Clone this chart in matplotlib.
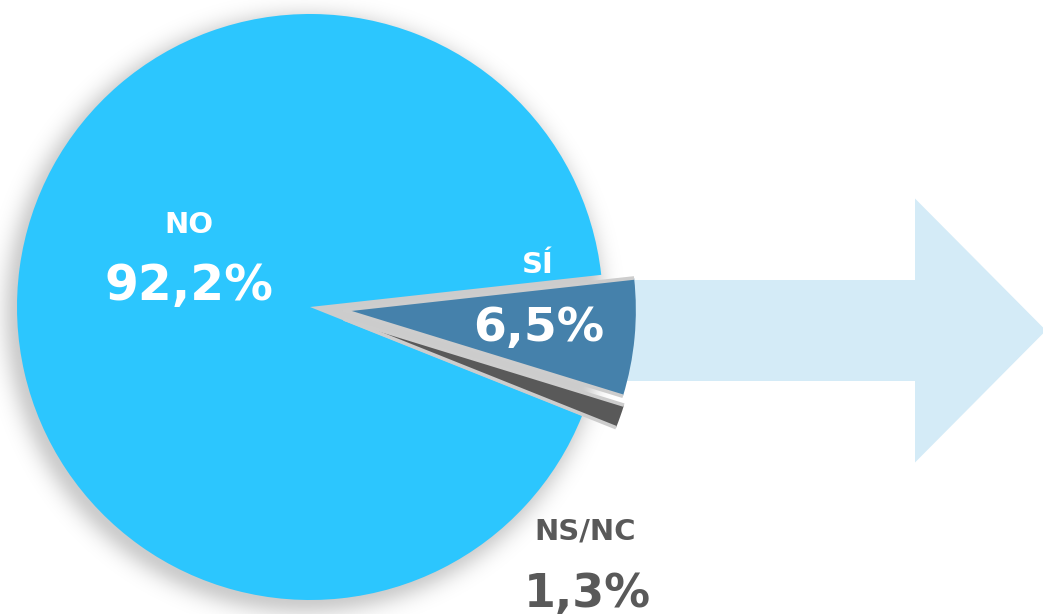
import numpy as np
import matplotlib
matplotlib.use("Agg")
import matplotlib.pyplot as plt
import matplotlib.patches as mpatches

# data
labels = ["NO", "NS/NC", "SÍ"]
values = [92.2, 1.3, 6.5]
value_text = ["92,2%", "1,3%", "6,5%"]
colors = ["#2cc6fe", "#595959", "#4581ab"]

W, H = 1043, 614
fig = plt.figure(figsize=(W / 100, H / 100), dpi=100)
ax = fig.add_axes([0, 0, 1, 1])

cx, cy, R = 310, H - 307, 293

# soft shadow under the pie
yy, xx = np.mgrid[0:H, 0:W]
d = np.hypot(xx - (cx - 6), (H - yy) - (cy - 6))
a = 0.20 * np.exp(-np.clip(d - (R - 8), 0, None) ** 2 / (2 * 13.0 ** 2))
shadow = np.zeros((H, W, 4))
shadow[..., 3] = a
ax.imshow(shadow, extent=(0, W, 0, H), origin="upper", zorder=0)

# arrow behind the "SÍ" slice
arrow = mpatches.FancyArrow(620, H - 330.5, 426, 0, width=101, head_width=264,
                            head_length=131, length_includes_head=True,
                            color="#d4ebf7", lw=0, zorder=1)
ax.add_patch(arrow)

wedges, _ = ax.pie(values, colors=colors, startangle=6.3, counterclock=True,
                   radius=R, center=(cx, cy), explode=[0, 36, 33],
                   wedgeprops=dict(linewidth=0), frame=True)
for i, w in enumerate(wedges):
    w.set_zorder(2 + i)
# light grey rims on the straight sides of the pulled-out slices
for i, w in enumerate(wedges[1:]):
    x0, y0 = w.center
    for t in (w.theta1, w.theta2):
        ax.plot([x0, x0 + w.r * np.cos(np.radians(t))],
                [y0, y0 + w.r * np.sin(np.radians(t))],
                color="#cdcdcd", lw=2.6, solid_capstyle="butt", zorder=3 + i)

ax.set_xlim(0, W)
ax.set_ylim(0, H)
ax.set_aspect("equal")
ax.axis("off")

font = "DejaVu Sans"
ax.text(189, H - 233, labels[0], color="white", fontsize=21, fontweight="bold",
        family=font, ha="center", va="baseline", zorder=6)
ax.text(189, H - 300, value_text[0], color="white", fontsize=35, fontweight="bold",
        family=font, ha="center", va="baseline", zorder=6)
ax.text(538, H - 273, labels[2], color="white", fontsize=21, fontweight="bold",
        family=font, ha="center", va="baseline", zorder=6)
ax.text(539, H - 341, value_text[2], color="white", fontsize=34, fontweight="bold",
        family=font, ha="center", va="baseline", zorder=6)
ax.text(585, H - 540, labels[1], color="#595959", fontsize=21, fontweight="bold",
        family=font, ha="center", va="baseline", zorder=6)
ax.text(587, H - 607, value_text[1], color="#595959", fontsize=33, fontweight="bold",
        family=font, ha="center", va="baseline", zorder=6)

fig.savefig("out.png", dpi=100, facecolor="white")
